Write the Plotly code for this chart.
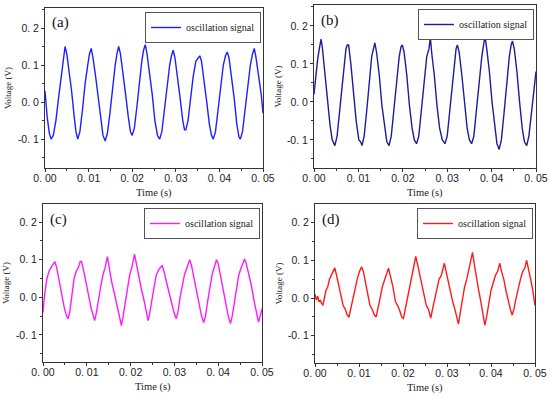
import plotly.graph_objects as go

# ---------------- data ----------------
t_a = [0.0000,0.0005,0.0010,0.0014,0.0019,0.0025,0.0031,0.0037,0.0042,0.0046,0.0050,0.0055,0.0061,0.0067,0.0071,0.0075,
       0.0080,0.0086,0.0092,0.0098,0.0102,0.0106,0.0110,0.0116,0.0122,0.0128,0.0133,0.0138,0.0143,0.0149,0.0155,0.0161,
       0.0165,0.0169,0.0173,0.0179,0.0185,0.0191,0.0196,0.0200,0.0205,0.0211,0.0217,0.0222,0.0226,0.0230,0.0234,0.0240,
       0.0246,0.0252,0.0258,0.0263,0.0268,0.0274,0.0280,0.0286,0.0290,0.0294,0.0298,0.0304,0.0310,0.0316,0.0320,0.0323,
       0.0328,0.0334,0.0340,0.0346,0.0351,0.0355,0.0359,0.0365,0.0371,0.0377,0.0382,0.0386,0.0391,0.0397,0.0403,0.0409,
       0.0414,0.0418,0.0422,0.0428,0.0434,0.0440,0.0445,0.0448,0.0453,0.0459,0.0465,0.0471,0.0476,0.0480,0.0484,0.0490,
       0.0496,0.0500]
v_a = [0.03,-0.04,-0.085,-0.10,-0.09,-0.05,0.01,0.07,0.12,0.15,0.13,0.09,0.03,-0.04,-0.08,-0.10,
       -0.08,-0.02,0.05,0.10,0.13,0.145,0.12,0.07,0.01,-0.05,-0.09,-0.105,-0.085,-0.03,0.04,0.10,
       0.13,0.15,0.13,0.08,0.02,-0.04,-0.08,-0.09,-0.07,-0.01,0.06,0.11,0.14,0.155,0.13,0.08,
       0.02,-0.05,-0.09,-0.10,-0.08,-0.02,0.05,0.10,0.125,0.14,0.12,0.07,0.01,-0.05,-0.075,-0.075,
       -0.05,0.01,0.07,0.11,0.12,0.125,0.11,0.06,0.00,-0.06,-0.09,-0.10,-0.08,-0.02,0.05,0.10,
       0.125,0.135,0.12,0.07,0.01,-0.06,-0.095,-0.10,-0.08,-0.02,0.05,0.10,0.13,0.145,0.12,0.07,
       0.02,-0.03]

t_b = [0.0000,0.0004,0.0008,0.0012,0.0016,0.0019,0.0024,0.0030,0.0036,0.0041,0.0047,0.0052,0.0057,0.0063,0.0068,0.0072,
       0.0075,0.0078,0.0083,0.0089,0.0095,0.0101,0.0105,0.0108,0.0113,0.0119,0.0125,0.0130,0.0134,0.0137,0.0141,0.0147,
       0.0153,0.0159,0.0164,0.0169,0.0174,0.0180,0.0186,0.0192,0.0196,0.0199,0.0203,0.0209,0.0215,0.0221,0.0226,0.0231,
       0.0236,0.0242,0.0248,0.0254,0.0259,0.0262,0.0265,0.0271,0.0277,0.0283,0.0289,0.0295,0.0300,0.0306,0.0312,0.0317,
       0.0320,0.0323,0.0327,0.0333,0.0339,0.0345,0.0350,0.0355,0.0360,0.0366,0.0372,0.0378,0.0382,0.0385,0.0389,0.0395,
       0.0401,0.0407,0.0412,0.0417,0.0422,0.0428,0.0434,0.0440,0.0444,0.0447,0.0451,0.0457,0.0463,0.0469,0.0474,0.0479,
       0.0484,0.0490,0.0495,0.0500]
v_b = [0.02,0.07,0.11,0.14,0.165,0.14,0.08,0.01,-0.06,-0.10,-0.115,-0.09,-0.03,0.05,0.11,0.14,
       0.15,0.15,0.10,0.03,-0.05,-0.10,-0.105,-0.115,-0.09,-0.02,0.06,0.12,0.14,0.155,0.13,0.07,
       -0.01,-0.07,-0.105,-0.115,-0.09,-0.02,0.06,0.12,0.145,0.15,0.13,0.07,-0.01,-0.07,-0.10,-0.11,
       -0.09,-0.02,0.06,0.12,0.14,0.17,0.13,0.07,-0.01,-0.07,-0.10,-0.11,-0.09,-0.02,0.06,0.12,
       0.14,0.15,0.13,0.07,-0.01,-0.07,-0.10,-0.11,-0.09,-0.02,0.06,0.12,0.15,0.175,0.14,0.08,
       0.00,-0.07,-0.11,-0.125,-0.10,-0.03,0.05,0.12,0.15,0.16,0.14,0.08,0.00,-0.07,-0.105,-0.115,
       -0.09,-0.02,0.04,0.08]

t_c = [0.0000,0.0004,0.0009,0.0014,0.0019,0.0024,0.0027,0.0031,0.0037,0.0043,0.0049,0.0054,0.0057,0.0061,0.0066,0.0071,
       0.0076,0.0081,0.0085,0.0088,0.0093,0.0099,0.0105,0.0110,0.0115,0.0118,0.0122,0.0127,0.0132,0.0137,0.0142,0.0147,
       0.0151,0.0157,0.0163,0.0169,0.0174,0.0179,0.0183,0.0188,0.0193,0.0198,0.0203,0.0209,0.0213,0.0219,0.0225,0.0231,
       0.0236,0.0240,0.0244,0.0249,0.0254,0.0259,0.0265,0.0272,0.0276,0.0282,0.0288,0.0294,0.0299,0.0304,0.0308,0.0313,
       0.0318,0.0323,0.0329,0.0335,0.0339,0.0345,0.0351,0.0357,0.0362,0.0367,0.0371,0.0376,0.0381,0.0386,0.0391,0.0396,
       0.0400,0.0406,0.0412,0.0418,0.0423,0.0428,0.0432,0.0437,0.0442,0.0447,0.0453,0.0460,0.0464,0.0470,0.0476,0.0482,
       0.0487,0.0492,0.0496,0.0500]
v_c = [-0.04,0.01,0.05,0.07,0.08,0.09,0.095,0.08,0.04,0.00,-0.03,-0.05,-0.057,-0.04,0.01,0.05,
       0.07,0.08,0.095,0.095,0.07,0.03,0.00,-0.03,-0.05,-0.062,-0.04,0.00,0.03,0.06,0.08,0.108,
       0.08,0.04,0.01,-0.02,-0.05,-0.075,-0.05,-0.01,0.03,0.06,0.08,0.115,0.09,0.05,0.02,-0.01,
       -0.04,-0.062,-0.04,0.00,0.03,0.06,0.075,0.084,0.07,0.04,0.01,-0.02,-0.04,-0.057,-0.04,0.00,
       0.03,0.06,0.08,0.10,0.085,0.05,0.02,-0.02,-0.05,-0.067,-0.05,-0.01,0.03,0.06,0.08,0.10,
       0.09,0.05,0.02,-0.02,-0.05,-0.07,-0.05,-0.01,0.03,0.06,0.08,0.102,0.09,0.06,0.03,-0.01,
       -0.04,-0.066,-0.05,-0.03]

t_d = [0.0000,0.0003,0.0006,0.0009,0.0012,0.0015,0.0018,0.0021,0.0025,0.0029,0.0033,0.0037,0.0041,0.0045,0.0049,0.0054,
       0.0059,0.0064,0.0069,0.0073,0.0077,0.0081,0.0086,0.0091,0.0096,0.0101,0.0106,0.0110,0.0115,0.0120,0.0125,0.0130,
       0.0135,0.0139,0.0143,0.0148,0.0153,0.0158,0.0163,0.0167,0.0171,0.0177,0.0183,0.0188,0.0193,0.0197,0.0201,0.0205,
       0.0210,0.0215,0.0220,0.0225,0.0229,0.0233,0.0238,0.0243,0.0248,0.0253,0.0258,0.0263,0.0267,0.0272,0.0277,0.0282,
       0.0287,0.0291,0.0294,0.0298,0.0303,0.0308,0.0313,0.0318,0.0322,0.0326,0.0330,0.0335,0.0340,0.0345,0.0350,0.0355,
       0.0358,0.0362,0.0367,0.0372,0.0377,0.0382,0.0386,0.0390,0.0395,0.0400,0.0405,0.0410,0.0415,0.0420,0.0424,0.0429,
       0.0434,0.0439,0.0444,0.0448,0.0452,0.0457,0.0462,0.0467,0.0472,0.0477,0.0481,0.0485,0.0490,0.0495,0.0500]
v_d = [0.01,-0.005,0.005,-0.01,-0.005,-0.015,-0.018,0.00,0.02,0.03,0.05,0.06,0.07,0.08,0.06,0.03,
       0.00,-0.02,-0.03,-0.045,-0.051,-0.03,0.00,0.03,0.05,0.07,0.083,0.07,0.04,0.01,-0.02,-0.03,
       -0.045,-0.05,-0.03,0.00,0.03,0.05,0.07,0.079,0.06,0.03,-0.01,-0.02,-0.035,-0.05,-0.054,-0.03,
       0.00,0.03,0.06,0.08,0.11,0.09,0.06,0.03,0.00,-0.02,-0.03,-0.053,-0.03,0.00,0.03,0.05,
       0.06,0.08,0.092,0.07,0.04,0.01,-0.01,-0.03,-0.05,-0.069,-0.04,0.00,0.03,0.05,0.08,0.10,
       0.121,0.09,0.05,0.02,-0.01,-0.04,-0.072,-0.05,-0.01,0.02,0.04,0.06,0.07,0.092,0.07,0.05,
       0.02,-0.01,-0.03,-0.045,-0.03,0.00,0.03,0.05,0.07,0.08,0.10,0.08,0.05,0.02,-0.02]

x_tickvals = [0.00, 0.01, 0.02, 0.03, 0.04, 0.05]
x_ticktext = ["0. 00", "0. 01", "0. 02", "0. 03", "0. 04", "0. 05"]
y_tickvals = [-0.1, 0.0, 0.1, 0.2]
y_ticktext = ["-0. 1", "0. 0", "0. 1", "0. 2"]
panel_labels = ["(a)", "(b)", "(c)", "(d)"]
series_name = "oscillation signal"
x_title = "Time (s)"
y_title = "Voltage (V)"

# ---------------- layout helpers ----------------
W, H = 550, 398
def px_x(p): return p / W
def px_y(p): return 1 - p / H

panels = [
    dict(t=t_a, v=v_a, color="#1f1fff", x0=45, x1=263, y0=8, y1=168, yr=[-0.178, 0.254]),
    dict(t=t_b, v=v_b, color="#1c1c9c", x0=314, x1=536, y0=5, y1=168, yr=[-0.174, 0.255]),
    dict(t=t_c, v=v_c, color="#ff1aff", x0=43, x1=262, y0=204, y1=362, yr=[-0.172, 0.248]),
    dict(t=t_d, v=v_d, color="#ff1a1a", x0=315, x1=535, y0=204, y1=363, yr=[-0.172, 0.249]),
]

fig = go.Figure()
serif = "Liberation Serif, Times New Roman, serif"
sans = "Liberation Sans, Arial, sans-serif"
axis_color = "#333333"

annotations = []
for i, p in enumerate(panels):
    n = "" if i == 0 else str(i + 1)
    legend_name = "legend" if i == 0 else f"legend{i+1}"
    fig.add_trace(go.Scatter(
        x=p["t"], y=p["v"], mode="lines", name=series_name,
        line=dict(color=p["color"], width=1.4),
        xaxis="x" + n, yaxis="y" + n, legend=legend_name, showlegend=True,
    ))
    common = dict(showline=True, linecolor=axis_color, linewidth=1, mirror=True,
                  showgrid=False, zeroline=False, ticks="outside", ticklen=3,
                  tickcolor=axis_color, tickwidth=1, automargin=False,
                  tickfont=dict(family=sans, size=10.5, color="#222222"))
    fig.update_layout(**{
        "xaxis" + n: dict(domain=[px_x(p["x0"]), px_x(p["x1"])], range=[0, 0.05],
                          tickvals=x_tickvals, ticktext=x_ticktext,
                          anchor="y" + n, ticklabelstandoff=-3,
                          minor=dict(dtick=0.005, tick0=0, ticks="outside", ticklen=2,
                                     tickcolor=axis_color, showgrid=False),
                          **common),
        "yaxis" + n: dict(domain=[px_y(p["y1"]), px_y(p["y0"])], range=p["yr"],
                          tickvals=y_tickvals, ticktext=y_ticktext,
                          anchor="x" + n,
                          minor=dict(dtick=0.05, tick0=0, ticks="outside", ticklen=2,
                                     tickcolor=axis_color, showgrid=False),
                          **common),
        legend_name: dict(x=px_x(p["x1"] - 2), y=px_y(p["y0"] + 4), xanchor="right", yanchor="top",
                          bgcolor="white", bordercolor="#555555", borderwidth=1,
                          font=dict(family=serif, size=10, color="#222222"),
                          itemwidth=30, tracegroupgap=0),
    })
    # panel label
    annotations.append(dict(x=px_x(p["x0"] + 5), y=px_y(p["y0"] + 15), xref="paper", yref="paper",
                            text=panel_labels[i], showarrow=False, xanchor="left", yanchor="middle",
                            font=dict(family=serif, size=15, color="#111111")))
    # axis titles
    annotations.append(dict(x=px_x((p["x0"] + p["x1"]) / 2), y=px_y(p["y1"] + 25), xref="paper", yref="paper",
                            text=x_title, showarrow=False, xanchor="center", yanchor="middle",
                            font=dict(family=serif, size=10.5, color="#222222")))
    annotations.append(dict(x=px_x(p["x0"] - 37), y=px_y((p["y0"] + p["y1"]) / 2), xref="paper", yref="paper",
                            text=y_title, showarrow=False, textangle=-90, xanchor="center", yanchor="middle",
                            font=dict(family=serif, size=9, color="#222222")))

fig.update_layout(width=W, height=H, margin=dict(l=0, r=0, t=0, b=0, autoexpand=False),
                  paper_bgcolor="white", plot_bgcolor="white",
                  annotations=annotations)

fig.write_html("out.html", config={"displayModeBar": False},
               post_script="document.body.style.margin='0';document.body.style.overflow='hidden';")
